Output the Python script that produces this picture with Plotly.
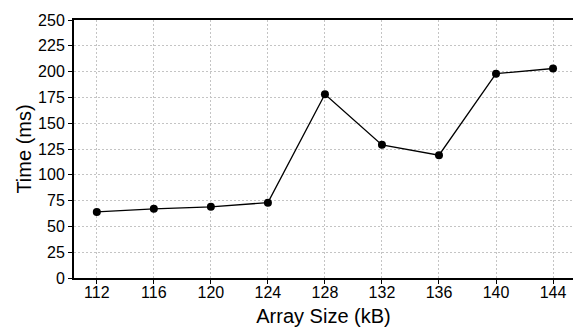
import plotly.graph_objects as go

array_size_kb = [112, 116, 120, 124, 128, 132, 136, 140, 144]
time_ms = [64, 67, 69, 73, 178, 129, 119, 198, 203]
x_ticks = [112, 116, 120, 124, 128, 132, 136, 140, 144]
y_ticks = [0, 25, 50, 75, 100, 125, 150, 175, 200, 225, 250]

fig = go.Figure()
fig.add_trace(go.Scatter(
    x=array_size_kb, y=time_ms, mode="lines+markers",
    line=dict(color="black", width=1.3),
    marker=dict(color="black", size=8),
    showlegend=False, cliponaxis=False,
))

fig.update_layout(
    width=573, height=329,
    margin=dict(l=74, r=0, t=20, b=51, autoexpand=False),
    paper_bgcolor="white", plot_bgcolor="white",
    font=dict(family="Liberation Sans, Arial, sans-serif", color="black", size=16),
)
fig.update_xaxes(
    range=[110.4, 145.4], tickvals=x_ticks, ticktext=[str(v) for v in x_ticks],
    showline=True, linecolor="black", linewidth=2, mirror=True,
    ticks="outside", ticklen=4, tickcolor="black",
    showgrid=True, gridcolor="#c4c4c4", griddash="2px,2px", gridwidth=1,
    zeroline=False, automargin=False, ticklabelstandoff=-5,
    title=dict(text="Array Size (kB)", font=dict(size=20), standoff=9),
    tickfont=dict(size=16),
)
fig.update_yaxes(
    range=[0, 250], tickvals=y_ticks,
    showline=True, linecolor="black", linewidth=2,
    ticks="outside", ticklen=4, tickcolor="black",
    showgrid=True, gridcolor="#c4c4c4", griddash="2px,2px", gridwidth=1,
    zeroline=False, automargin=False,
    title=dict(text="Time (ms)", font=dict(size=20), standoff=1),
    tickfont=dict(size=16),
)

fig.write_html(
    "out.html",
    config={"displayModeBar": False},
    post_script="document.body.style.margin='0';document.body.style.padding='0';document.body.style.overflow='hidden';",
)
